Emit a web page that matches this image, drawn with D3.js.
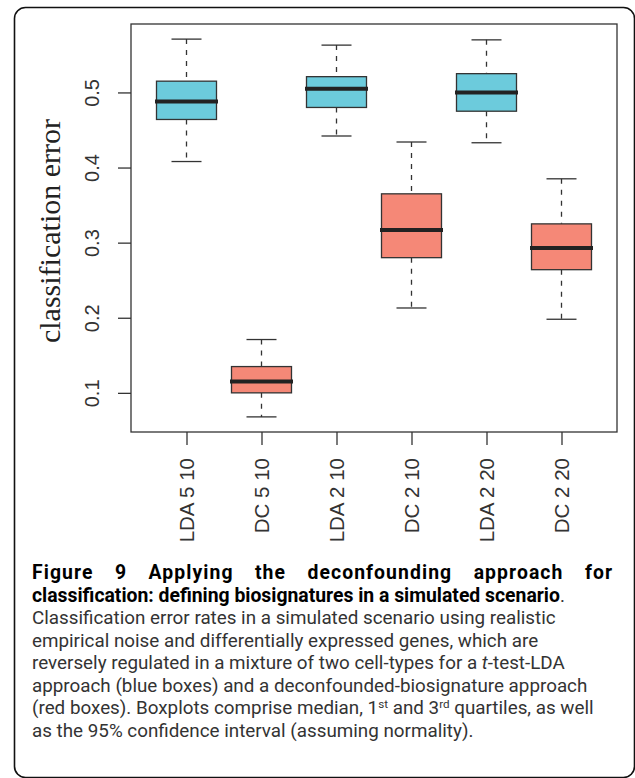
<!DOCTYPE html>
<html>
<head>
<meta charset="utf-8">
<script src="https://cdn.jsdelivr.net/npm/d3@7"></script>
<style>
  html, body { margin: 0; padding: 0; background: #fff; }
  svg { display: block; }
</style>
</head>
<body>
<svg id="chart" width="635" height="778"></svg>
<script>
// ---- data ----
const categories   = ["LDA 5 10", "DC 5 10", "LDA 2 10", "DC 2 10", "LDA 2 20", "DC 2 20"];
const methods      = ["LDA", "DC", "LDA", "DC", "LDA", "DC"];
const lowerWhisker = [0.408, 0.068, 0.442, 0.213, 0.433, 0.198];
const quartile1    = [0.464, 0.100, 0.480, 0.280, 0.475, 0.264];
const medians      = [0.488, 0.115, 0.505, 0.317, 0.500, 0.293];
const quartile3    = [0.515, 0.135, 0.521, 0.365, 0.525, 0.325];
const upperWhisker = [0.571, 0.171, 0.563, 0.434, 0.570, 0.385];
const yTicks       = [0.1, 0.2, 0.3, 0.4, 0.5];
const yLabel       = "classification error";
const captionBoldLines = [
  "Figure 9 Applying the deconfounding approach for",
  "classification: defining biosignatures in a simulated scenario"
];
// regular lines as segments: [text, style] style: "", "sup", "i"
const captionLines = [
  [["Classification error rates in a simulated scenario using realistic", ""]],
  [["empirical noise and differentially expressed genes, which are", ""]],
  [["reversely regulated in a mixture of two cell-types for a ", ""], ["t", "i"], ["-test-LDA", ""]],
  [["approach (blue boxes) and a deconfounded-biosignature approach", ""]],
  [["(red boxes). Boxplots comprise median, 1", ""], ["st", "sup"], [" and 3", ""], ["rd", "sup"], [" quartiles, as well", ""]],
  [["as the 95% confidence interval (assuming normality).", ""]]
];

// ---- styles ----
const colors = { LDA: "#6ccbdc", DC: "#f58877" };
const ink = "#333";

const svg = d3.select("#chart");
const plot = { left: 131, right: 617, top: 24, bottom: 432 };

// outer rounded frame
svg.append("rect")
  .attr("x", 14.5).attr("y", 7.5)
  .attr("width", 620).attr("height", 770)
  .attr("rx", 11).attr("ry", 11)
  .attr("fill", "none").attr("stroke", "#111").attr("stroke-width", 1.6);

// scales (R-style 4% extension)
const yMin = d3.min(lowerWhisker), yMax = d3.max(upperWhisker);
const yExt = (yMax - yMin) * 0.04;
const y = d3.scaleLinear().domain([yMin - yExt, yMax + yExt]).range([plot.bottom, plot.top]);
const n = categories.length;
const xExt = n * 0.04;
const x = d3.scaleLinear().domain([0.5 - xExt, n + 0.5 + xExt]).range([plot.left, plot.right]);
const boxW = (x(1) - x(0)) * 0.8;
const capW = boxW / 2;

// y axis
const yAxis = svg.append("g")
  .attr("transform", `translate(${plot.left},0)`)
  .call(d3.axisLeft(y).tickValues(yTicks).tickSize(13).tickFormat(d3.format(".1f")));
yAxis.select(".domain").remove();
yAxis.selectAll(".tick line").attr("stroke", ink).attr("stroke-width", 1.3);
yAxis.selectAll(".tick text")
  .attr("x", null).attr("dy", null)
  .attr("transform", "translate(-32,0) rotate(-90)")
  .attr("text-anchor", "middle")
  .attr("fill", ink)
  .style("font-family", "'Liberation Sans', Arial, sans-serif")
  .style("font-size", "20px");

// x axis
const xAxis = svg.append("g")
  .attr("transform", `translate(0,${plot.bottom})`)
  .call(d3.axisBottom(x).tickValues(d3.range(1, n + 1)).tickSize(13).tickFormat(i => categories[i - 1]));
xAxis.select(".domain").remove();
xAxis.selectAll(".tick line").attr("stroke", ink).attr("stroke-width", 1.3);
xAxis.selectAll(".tick text")
  .attr("y", null).attr("dy", null)
  .attr("transform", "translate(7,26) rotate(-90)")
  .attr("text-anchor", "end")
  .attr("fill", ink)
  .style("font-family", "'Liberation Sans', Arial, sans-serif")
  .style("font-size", "20.5px");

// y label
svg.append("text")
  .attr("transform", `translate(60,${(plot.top + plot.bottom) / 2 + 3}) rotate(-90)`)
  .attr("text-anchor", "middle")
  .attr("fill", "#222")
  .style("font-family", "'Liberation Serif', 'Times New Roman', serif")
  .style("font-size", "30px")
  .text(yLabel);

// boxes
const data = categories.map((c, i) => ({
  i: i + 1, c, m: methods[i],
  lo: lowerWhisker[i], q1: quartile1[i], med: medians[i], q3: quartile3[i], hi: upperWhisker[i]
}));
const g = svg.append("g");
const bx = g.selectAll("g.box").data(data).join("g").attr("class", "box");
bx.append("line")
  .attr("x1", d => x(d.i)).attr("x2", d => x(d.i))
  .attr("y1", d => y(d.hi)).attr("y2", d => y(d.q3))
  .attr("stroke", ink).attr("stroke-width", 1.3).attr("stroke-dasharray", "5,6");
bx.append("line")
  .attr("x1", d => x(d.i)).attr("x2", d => x(d.i))
  .attr("y1", d => y(d.q1)).attr("y2", d => y(d.lo))
  .attr("stroke", ink).attr("stroke-width", 1.3).attr("stroke-dasharray", "5,6");
bx.append("line")
  .attr("x1", d => x(d.i) - capW / 2).attr("x2", d => x(d.i) + capW / 2)
  .attr("y1", d => y(d.hi)).attr("y2", d => y(d.hi))
  .attr("stroke", ink).attr("stroke-width", 1.3);
bx.append("line")
  .attr("x1", d => x(d.i) - capW / 2).attr("x2", d => x(d.i) + capW / 2)
  .attr("y1", d => y(d.lo)).attr("y2", d => y(d.lo))
  .attr("stroke", ink).attr("stroke-width", 1.3);
bx.append("rect")
  .attr("x", d => x(d.i) - boxW / 2).attr("width", boxW)
  .attr("y", d => y(d.q3)).attr("height", d => y(d.q1) - y(d.q3))
  .attr("fill", d => colors[d.m]).attr("stroke", ink).attr("stroke-width", 1.3);
bx.append("line")
  .attr("x1", d => x(d.i) - boxW / 2 - 1.5).attr("x2", d => x(d.i) + boxW / 2 + 1.5)
  .attr("y1", d => y(d.med)).attr("y2", d => y(d.med))
  .attr("stroke", "#222").attr("stroke-width", 4);

// plot frame
svg.append("rect")
  .attr("x", plot.left).attr("y", plot.top)
  .attr("width", plot.right - plot.left).attr("height", plot.bottom - plot.top)
  .attr("fill", "none").attr("stroke", ink).attr("stroke-width", 1.3);

// ---- caption ----
const capLeft = 32, capRight = 612;
const baseline0 = 579, lineGap = 22.5;
const capFont = "Roboto, Lato, sans-serif";

function fitSize(text, weight, target, start) {
  const t = svg.append("text").style("font-family", capFont).style("font-weight", weight)
    .style("font-size", start + "px").text(text);
  const w = t.node().getComputedTextLength();
  t.remove();
  return start * target / w;
}
const boldSize = fitSize(captionBoldLines[1], 700, 528, 17);
const regSize = fitSize(captionLines[0][0][0], 400, 524, 16);

// justified line 1 (letter- and word-spaced)
{
  const words = captionBoldLines[0].split(" ");
  const nodes = words.map(wd => svg.append("text")
    .attr("y", baseline0)
    .style("font-family", capFont).style("font-weight", 700)
    .style("font-size", boldSize + "px").attr("fill", "#000").text(wd));
  const natural = nodes.map(s => s.node().getComputedTextLength());
  const nChars = d3.sum(words, w => w.length);
  const wordsTarget = (capRight - capLeft) * 0.78;
  const ls = Math.max(0, (wordsTarget - d3.sum(natural)) / nChars);
  nodes.forEach(s => s.style("letter-spacing", ls + "px"));
  const widths = words.map((w, k) => natural[k] + ls * (w.length - 1));
  const gap = (capRight - capLeft - d3.sum(widths)) / (words.length - 1);
  let cx = capLeft;
  nodes.forEach((s, k) => { s.attr("x", cx); cx += widths[k] + gap; });
}
// line 2 (bold + regular period)
{
  const t = svg.append("text").attr("x", capLeft).attr("y", baseline0 + lineGap)
    .style("font-family", capFont).attr("fill", "#000");
  t.append("tspan").style("font-weight", 700).style("font-size", boldSize + "px").text(captionBoldLines[1]);
  t.append("tspan").style("font-weight", 400).style("font-size", regSize + "px").attr("fill", "#333").text(".");
}
// regular lines
captionLines.forEach((segs, k) => {
  const t = svg.append("text").attr("x", capLeft).attr("y", baseline0 + lineGap * (k + 2))
    .style("font-family", capFont).style("font-size", regSize + "px").attr("fill", "#333");
  let pending = 0;
  segs.forEach(([txt, st]) => {
    const sp = t.append("tspan").text(txt);
    if (st === "sup") {
      sp.attr("dy", pending - 6).style("font-size", (regSize * 0.62) + "px");
      pending = 6;
    } else {
      if (pending) { sp.attr("dy", pending); pending = 0; }
      if (st === "i") sp.style("font-style", "italic");
    }
  });
});
</script>
</body>
</html>
